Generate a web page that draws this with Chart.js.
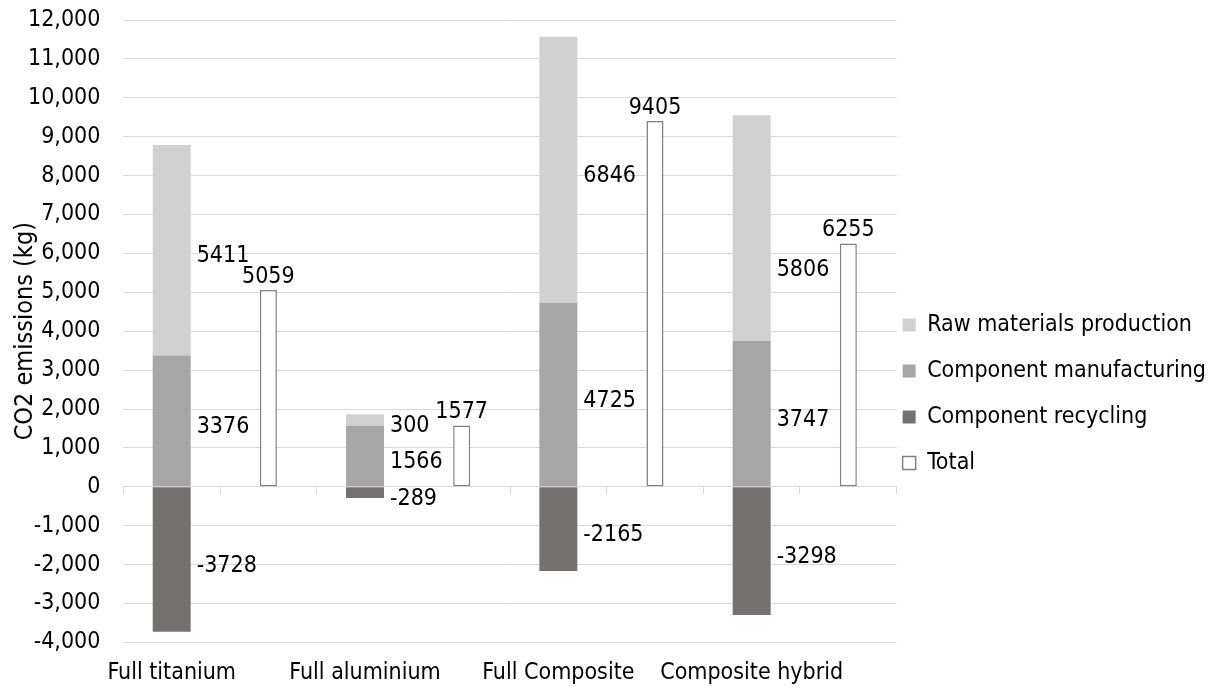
<!DOCTYPE html>
<html>
<head>
<meta charset="utf-8">
<script src="https://cdn.jsdelivr.net/npm/chart.js@4.4.1/dist/chart.umd.min.js"></script>
<style>
  html, body { margin: 0; padding: 0; background: #fff; }
  #wrap { width: 1216px; height: 687px; }
</style>
</head>
<body>
<div id="wrap"><canvas id="co2Chart"></canvas></div>
<script>
const materials = ["Full titanium", "Full aluminium", "Full Composite", "Composite hybrid"];
const rawMaterials = [5411, 300, 6846, 5806];
const manufacturing = [3376, 1566, 4725, 3747];
const recycling = [-3728, -289, -2165, -3298];
const totals = [5059, 1577, 9405, 6255];
const yMin = -4000;
const yMax = 12000;
const yStep = 1000;

const FONT = "'DejaVu Sans Condensed', 'DejaVu Sans', sans-serif";
const FONT_SIZE = 23;

// every material gets two slots: the stacked bar, then its total bar
const labels = materials.flatMap(m => [m, ""]);
const inBarSlot = arr => arr.flatMap(v => [v, null]);
const inTotalSlot = arr => arr.flatMap(v => [null, v]);

// numbers next to the stacked segments and above the total bars
const valueLabels = {
  id: "valueLabels",
  afterDatasetsDraw(chart) {
    const ctx = chart.ctx;
    ctx.save();
    ctx.font = FONT_SIZE + "px " + FONT;
    ctx.fillStyle = "#000";
    ctx.textBaseline = "alphabetic";
    const placed = [];
    const items = [];
    chart.data.datasets.forEach((ds, i) => {
      const meta = chart.getDatasetMeta(i);
      meta.data.forEach((bar, j) => {
        const v = ds.data[j];
        if (v === null || v === undefined) return;
        const { x, y, base, width } = bar.getProps(["x", "y", "base", "width"], true);
        const text = String(v);
        const w = ctx.measureText(text).width;
        if (ds.label === "Total") {
          items.push({ text, align: "center", x, y: y - 7, w, total: true });
        } else {
          items.push({ text, align: "left", x: x + width / 2 + 6, y: (y + base) / 2 + 12, w, total: false });
        }
      });
    });
    const box = it => {
      const left = it.align === "center" ? it.x - it.w / 2 : it.x;
      return { l: left, r: left + it.w, t: it.y - 17, b: it.y };
    };
    const hit = (a, b) => a.l < b.r && b.l < a.r && a.t < b.b && b.t < a.b;
    // total labels first, side labels step down a line if they would collide
    items.filter(it => it.total).forEach(it => placed.push(box(it)));
    items.filter(it => !it.total).forEach(it => {
      if (placed.some(p => hit(box(it), p))) it.y += FONT_SIZE * 1.55;
      placed.push(box(it));
    });
    items.forEach(it => {
      ctx.textAlign = it.align;
      ctx.fillText(it.text, it.x, it.y);
    });
    ctx.restore();
  }
};

const ctx = document.getElementById("co2Chart").getContext("2d");
new Chart(ctx, {
  type: "bar",
  data: {
    labels: labels,
    datasets: [
      {
        label: "Total",
        data: inTotalSlot(totals),
        backgroundColor: "#ffffff",
        borderColor: "#808080",
        borderWidth: 1.5,
        borderSkipped: false,
        barPercentage: 0.176,
        categoryPercentage: 1,
      },
      {
        label: "Component recycling",
        data: inBarSlot(recycling),
        backgroundColor: "#767171",
        barPercentage: 0.393,
        categoryPercentage: 1,
      },
      {
        label: "Component manufacturing",
        data: inBarSlot(manufacturing),
        backgroundColor: "#a6a6a6",
        barPercentage: 0.393,
        categoryPercentage: 1,
      },
      {
        label: "Raw materials production",
        data: inBarSlot(rawMaterials),
        backgroundColor: "#d0d0d0",
        barPercentage: 0.393,
        categoryPercentage: 1,
      },
    ],
  },
  options: {
    responsive: true,
    maintainAspectRatio: false,
    animation: false,
    layout: { padding: { top: 20, left: 0, right: 0, bottom: -17 } },
    plugins: {
      tooltip: { enabled: false },
      legend: {
        position: "right",
        reverse: true,
        maxWidth: 340,
        // blank title only pushes the items down to the middle of the plot
        title: { display: true, text: " ", font: { size: 10, lineHeight: 1 }, padding: { top: 71, bottom: 0 } },
        labels: {
          boxWidth: 13,
          boxHeight: 13,
          padding: 6,
          color: "#000",
          font: { family: FONT, size: FONT_SIZE, lineHeight: "40px" },
          generateLabels(chart) {
            return Chart.defaults.plugins.legend.labels.generateLabels(chart)
              .map(item => ({ ...item, text: [item.text] }));
          },
        },
      },
    },
    scales: {
      x: {
        stacked: true,
        grid: { display: false, drawTicks: false },
        border: { display: false },
        ticks: {
          color: "#000",
          font: { family: FONT, size: FONT_SIZE },
          padding: 17,
          autoSkip: false,
          maxRotation: 0,
          minRotation: 0,
        },
      },
      x2: {
        axis: "x",
        type: "category",
        position: { y: 0 },
        offset: true,
        grid: { offset: true, drawOnChartArea: false, drawTicks: true, tickLength: 7, color: "#d9d9d9" },
        border: { display: true, color: "#d9d9d9" },
        ticks: { display: false },
      },
      y: {
        stacked: true,
        min: yMin,
        max: yMax,
        // tick padding would otherwise also be reserved above the top label
        afterFit(scale) {
          scale.paddingTop = 0;
          scale.paddingBottom = 0;
        },
        ticks: {
          stepSize: yStep,
          color: "#000",
          font: { family: FONT, size: FONT_SIZE },
          padding: 23,
        },
        grid: { color: "#d9d9d9", drawTicks: false },
        border: { display: false },
        title: {
          display: true,
          text: "CO2 emissions (kg)",
          color: "#000",
          font: { family: FONT, size: 25 },
          padding: { top: 10, bottom: -35 },
        },
      },
    },
  },
  plugins: [valueLabels],
});
</script>
</body>
</html>
